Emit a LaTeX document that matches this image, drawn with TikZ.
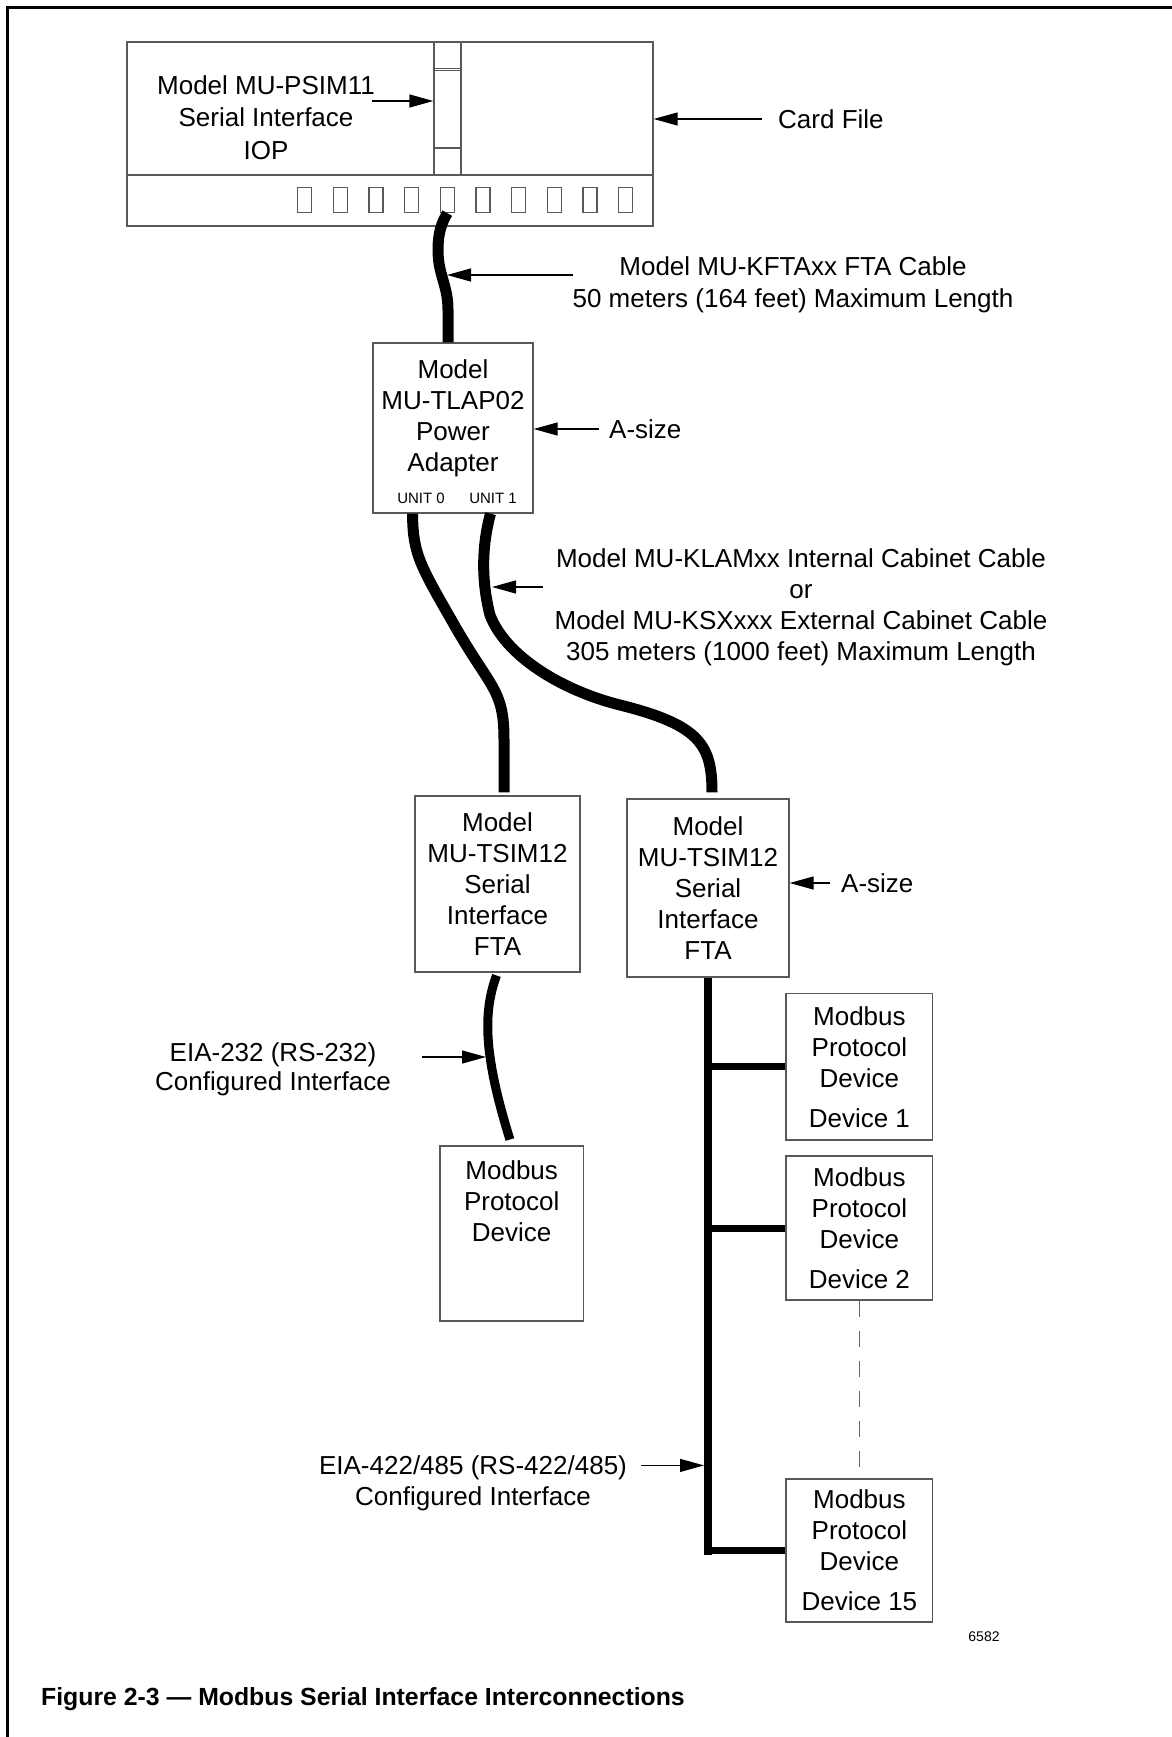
\documentclass[tikz,border=0pt]{standalone}
\usepackage{fontspec}
\setmainfont{Liberation Sans}
\usetikzlibrary{arrows.meta,positioning,calc}

\begin{document}
\begin{tikzpicture}[
  x=1pt, y=-1pt,
  every node/.style={font=\fontsize{26}{31}\selectfont, inner sep=0pt},
  boxline/.style={draw=black!65, line width=1.3pt},
  box/.style={boxline, align=center},
  cable/.style={line width=11pt},
  bus/.style={line width=8pt},
  tap/.style={line width=7pt},
  pointer/.style={-{Triangle[length=24pt,width=13pt]}, line width=1.3pt},
  dashline/.style={draw=black!60, line width=1pt, dash pattern=on 16pt off 14pt},
  unitlbl/.style={font=\fontsize{15}{18}\selectfont},
]
  \useasboundingbox (0,0) rectangle (1172,1737);

  % Frame
  \draw[line width=3pt] (7.5,1737) -- (7.5,7.5) -- (1172,7.5);

  % Card file with IOP slot
  \node[box, minimum width=526pt, minimum height=184pt] (cardfile) at (390,134) {};
  \draw[boxline] (cardfile.west |- 0,175) -- (cardfile.east |- 0,175);
  \node[box, minimum width=27pt, minimum height=133pt] (iop) at (447.5,108.5) {};
  \draw[boxline] (iop.west |- 0,68.5) -- (iop.east |- 0,68.5)
                 (iop.west |- 0,70.5) -- (iop.east |- 0,70.5)
                 (iop.west |- 0,148) -- (iop.east |- 0,148);
  \foreach \i in {0,...,9}
    \node[box, minimum width=14pt, minimum height=25pt] (slot\i) at (304.5+35.7*\i,200) {};

  \node[align=center, font=\fontsize{26}{32.5}\selectfont] (ioptxt) at (266,117.5)
    {Model MU-PSIM11\\Serial Interface\\IOP};
  \coordinate (iopptr) at (372,101);
  \draw[pointer] (iopptr) -- (iopptr -| iop.west);

  \coordinate (cardptr) at (762,119);
  \node[right=16pt of cardptr] (cardlbl) {Card File};
  \draw[pointer] (cardptr) -- (cardptr -| cardfile.east);

  % Power adapter
  \node[box, minimum width=160pt, minimum height=170pt] (adapter) at (453,428) {};
  \node[align=center, below=17pt of adapter.north] (adaptertxt) {Model\\MU-TLAP02\\Power\\Adapter};
  \node[unitlbl] (unit0) at (421,498) {UNIT 0};
  \node[unitlbl] (unit1) at (493,498) {UNIT 1};

  \coordinate (asizeptrA) at (599,429);
  \node[right=10pt of asizeptrA] (asizeA) {A-size};
  \draw[pointer] (asizeptrA) -- (asizeptrA -| adapter.east);

  % FTA cable
  \draw[cable] (slot4.south) .. controls (442,222) and (438,232) .. (438,250)
    .. controls (438,275) and (448,285) .. (448,310) -- ($(adapter.north)+(-5,0)$);
  \node[align=center, font=\fontsize{26}{32.3}\selectfont] (kftatxt) at (793,285)
    {Model MU-KFTAxx FTA Cable\\50 meters (164 feet) Maximum Length};
  \coordinate (kftaptr) at (573,275);
  \coordinate (kftatip) at (447,275);
  \draw[pointer] (kftaptr) -- (kftatip);

  % Serial interface FTAs
  \node[box, minimum width=165pt, minimum height=176pt] (tsimA) at (497.5,884)
    {Model\\MU-TSIM12\\Serial\\Interface\\FTA};
  \node[box, minimum width=162pt, minimum height=178pt] (tsimB) at (708,888)
    {Model\\MU-TSIM12\\Serial\\Interface\\FTA};

  \coordinate (asizeptrB) at (830,883);
  \node[right=11pt of asizeptrB] (asizeB) {A-size};
  \draw[pointer] (asizeptrB) -- (asizeptrB -| tsimB.east);

  % Cabinet cables
  \draw[cable, shorten >=3pt] ($(adapter.south)+(-40.5,0)$) .. controls (413,555) and (420,565) .. (456,628)
    .. controls (492,690) and (504,690) .. (504,740) -- ($(tsimA.north)+(6.5,0)$);
  \draw[cable, shorten >=6pt] ($(adapter.south)+(37.5,0)$) .. controls (482,545) and (481,580) .. (490,615)
    .. controls (505,655) and (560,690) .. (620,705)
    .. controls (700,725) and (712,745) .. ($(tsimB.north)+(4,0)$);
  \node[align=center] (klamtxt) at (801,607)
    {Model MU-KLAMxx Internal Cabinet Cable\\or\\Model MU-KSXxxx External Cabinet Cable\\305 meters (1000 feet) Maximum Length};
  \coordinate (klamptr) at (543,587);
  \coordinate (klamtip) at (492,587);
  \draw[pointer] (klamptr) -- (klamtip);

  % EIA-232 link
  \node[box, minimum width=143.5pt, minimum height=175pt] (modbus) at (511.7,1233.4) {};
  \node[align=center, below=15pt of modbus.north] (modbustxt) {Modbus\\Protocol\\Device};
  \draw[cable, line width=9pt, shorten <=3pt, shorten >=6pt] (tsimA.south)
    .. controls (484,1010) and (482,1050) .. (modbus.north);
  \node[align=center, font=\fontsize{26}{29}\selectfont] (rs232txt) at (273,1069)
    {EIA-232 (RS-232)\\Configured Interface};
  \coordinate (rs232ptr) at (421.7,1057);
  \coordinate (rs232tip) at (486,1057);
  \draw[pointer] (rs232ptr) -- (rs232tip);

  % EIA-422/485 multidrop
  \node[box, minimum width=146.7pt, minimum height=146.5pt] (devA) at (859.4,1066.8)
    {Modbus\\Protocol\\Device\\[9pt]Device 1};
  \node[box, minimum width=146.7pt, minimum height=144pt] (devB) at (859.4,1228)
    {Modbus\\Protocol\\Device\\[9pt]Device 2};
  \node[box, minimum width=146.7pt, minimum height=143pt] (devC) at (859.4,1550.5)
    {Modbus\\Protocol\\Device\\[9pt]Device 15};
  \draw[bus] (tsimB.south) -- ($(devC.west -| tsimB.south)+(0,4.5)$);
  \foreach \d in {devA,devB,devC}
    \draw[tap] (\d.west) -- (\d.west -| tsimB.south);
  \draw[dashline] (devB.south) -- (devC.north);

  \node[align=center] (rs485txt) at (473,1483.5)
    {EIA-422/485 (RS-422/485)\\Configured Interface};
  \coordinate (rs485ptr) at (641,1465.4);
  \draw[pointer, shorten >=4pt] (rs485ptr) -- (rs485ptr -| tsimB.south);

  % Drawing number and caption
  \node[font=\fontsize{14}{16}\selectfont] (fignum) at (984,1637) {6582};
  \node[anchor=base west, font=\fontsize{24.8}{28}\selectfont\bfseries] (caption) at (41,1705)
    {Figure 2-3 — Modbus Serial Interface Interconnections};
\end{tikzpicture}
\end{document}
